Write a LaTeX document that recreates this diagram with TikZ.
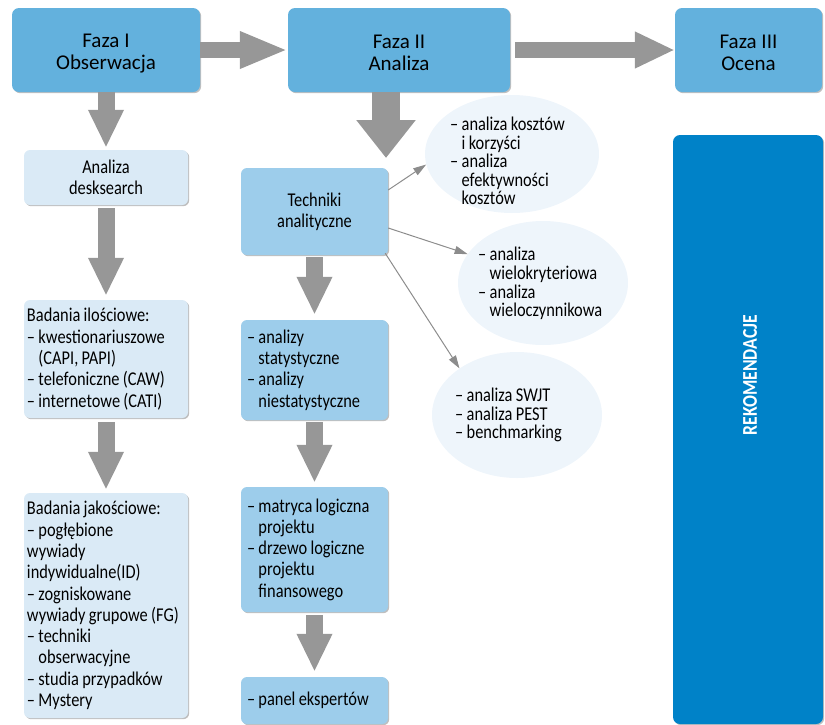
\documentclass[tikz,border=0pt]{standalone}
\usepackage{fontspec}
\setmainfont{Carlito}
\newfontfamily\condfont{Carlito}[FakeStretch=0.84, WordSpace=0.9]
\usetikzlibrary{arrows.meta,shapes.geometric,shadows,calc}

\definecolor{phaseblue}{HTML}{63B1DD}
\definecolor{paleblue}{HTML}{DAEAF6}
\definecolor{midblue}{HTML}{9DCDEB}
\definecolor{cloudblue}{HTML}{EEF5FB}
\definecolor{deepblue}{HTML}{0082C8}
\definecolor{arrowgray}{HTML}{979797}
\definecolor{thingray}{HTML}{8C8C8C}

\tikzset{
  softshadow/.style={drop shadow={shadow xshift=1.2pt, shadow yshift=-1.2pt, opacity=0.25, fill=black}},
  phasebox/.style={fill=phaseblue, rounded corners=7pt, minimum height=84pt, align=center,
    inner sep=0pt, font=\fontsize{21}{22}\selectfont, softshadow},
  listbox/.style={rounded corners=6pt, inner ysep=0pt, align=flush left,
    font=\condfont\fontsize{19.5}{21.3}\selectfont, softshadow},
  leftbox/.style={listbox, fill=paleblue, inner xsep=3pt, text width=158pt},
  rightbox/.style={listbox, fill=midblue, inner xsep=6pt, text width=135pt},
  cloud/.style={ellipse, fill=cloudblue, inner sep=0pt},
  cloudtext/.style={anchor=west, inner sep=0pt, align=flush left,
    font=\condfont\fontsize{19.5}{18.6}\selectfont},
  blockarrow/.style={draw=arrowgray, line width=#1},
  colarrow/.style={blockarrow=17pt, -{Triangle[length=38pt,width=33pt]}},
  thinarrow/.style={draw=thingray, line width=1pt, -{Triangle[length=13pt,width=8pt]}},
}

\begin{document}
\begin{tikzpicture}[x=1pt, y=-1pt]
\useasboundingbox (0,0) rectangle (825,724);

% option clouds
\node[cloud, minimum width=174pt, minimum height=118pt] (c1) at (512,154) {};
\node[cloud, minimum width=170pt, minimum height=124pt] (c2) at (543,283) {};
\node[cloud, minimum width=170pt, minimum height=126pt] (c3) at (517,415) {};
\node[cloudtext] (t1) at (450,161) {– analiza kosztów\\\phantom{– }i korzyści\\– analiza\\\phantom{– }efektywności\\\phantom{– }kosztów};
\node[cloudtext] (t2) at (478,283.5) {– analiza\\\phantom{– }wielokryteriowa\\– analiza\\\phantom{– }wieloczynnikowa};
\node[cloudtext] (t3) at (455,415) {– analiza SWJT\\– analiza PEST\\– benchmarking};

% phases
\node[phasebox, minimum width=188pt] (f1) at (106,50) {\rule{0pt}{20pt}Faza I\\Obserwacja};
\node[phasebox, minimum width=222pt] (f2) at (399,50) {\rule{0pt}{20pt}Faza II\\Analiza};
\node[phasebox, minimum width=147pt] (f3) at (748.5,50) {\rule{0pt}{20pt}Faza III\\Ocena};

% observation column
\node[leftbox, minimum height=55pt, align=flush center] (desk) at (106,177.5) {Analiza\\desksearch};
\node[leftbox, minimum height=118pt] (quant) at (106,359) {Badania ilościowe:\\– kwestionariuszowe\\\phantom{– }(CAPI, PAPI)\\– telefoniczne (CAW)\\– internetowe (CATI)};
\node[leftbox, minimum height=225pt] (qual) at (106,605.5) {Badania jakościowe:\\– pogłębione\\wywiady\\indywidualne(ID)\\– zogniskowane\\wywiady grupowe (FG)\\– techniki\\\phantom{– }obserwacyjne\\– studia przypadków\\– Mystery};

% analysis column
\node[rightbox, minimum height=87pt, align=flush center] (tech) at (314.5,211.5) {Techniki\\analityczne};
\node[rightbox, minimum height=100pt] (stat) at (314.5,370) {– analizy\\\phantom{– }statystyczne\\– analizy\\\phantom{– }niestatystyczne};
\node[rightbox, minimum height=125pt] (logic) at (314.5,549.5) {– matryca logiczna\\\phantom{– }projektu\\– drzewo logiczne\\\phantom{– }projektu\\\phantom{– }finansowego};
\node[rightbox, minimum height=47pt] (panel) at (314.5,700.5) {– panel ekspertów};

% recommendations
\node[fill=deepblue, rounded corners=7pt, minimum width=150pt, minimum height=589pt, softshadow] (rec) at (748,429.5) {};
\node[rotate=90, text=white, inner sep=0pt, font=\condfont\bfseries\fontsize{21}{21}\selectfont] (reclabel) at (750,375) {REKOMENDACJE};

% block arrows between phases
\draw[blockarrow=16pt, -{Triangle[length=48pt,width=34pt]}] (f1) -- (f2);
\draw[blockarrow=16pt, shorten <=5pt, -{Triangle[length=40pt,width=34pt]}] (f2) -- (f3);
\coordinate (f2drop) at (386,158);
\draw[blockarrow=28pt, -{Triangle[length=38pt,width=57pt]}] (f2.south -| f2drop) -- (f2drop);

% block arrows down the columns
\draw[colarrow, shorten >=2pt] (f1) -- (desk);
\draw[colarrow, shorten <=3pt, shorten >=4pt] (desk) -- (quant);
\draw[colarrow, shorten <=4pt, shorten >=3pt] (quant) -- (qual);
\draw[colarrow, shorten <=2pt, shorten >=5pt] (tech) -- (stat);
\draw[colarrow, shorten <=2pt, shorten >=4pt] (stat) -- (logic);
\draw[colarrow, shorten <=3pt, shorten >=5pt] (logic) -- (panel);

% thin arrows to the clouds
\draw[thinarrow] ($(tech.east)+(0,-21.5)$) -- (c1.187);
\draw[thinarrow] ($(tech.east)+(0,16.5)$) -- (c2.159);
\draw[thinarrow] ($(tech.south east)+(-3,-2)$) -- (c3.141);
\end{tikzpicture}
\end{document}
